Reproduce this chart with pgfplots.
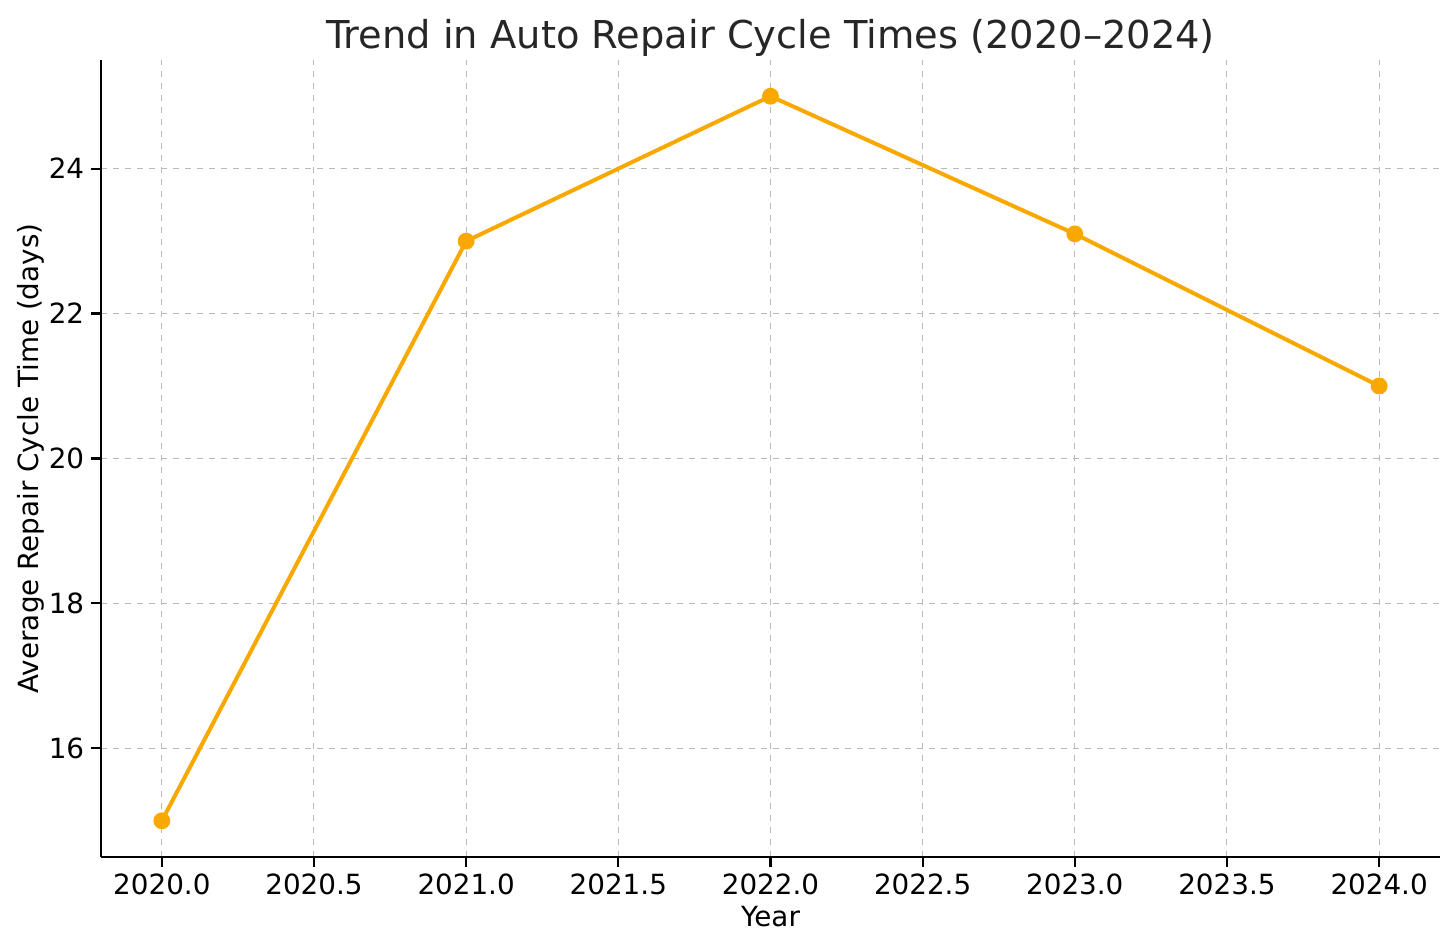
\documentclass[border=0pt]{standalone}
\usepackage{pgfplots}
\pgfplotsset{compat=1.18}
\usepackage{fontspec}
\setmainfont{DejaVu Sans}
\definecolor{lineorange}{RGB}{249,168,0}
\definecolor{txt}{RGB}{38,38,38}
\begin{document}
\begin{tikzpicture}
\path[use as bounding box] (-50.5pt,-47pt) rectangle (677.5pt,428.5pt);
\begin{axis}[
  scale only axis,
  width=669.5pt, height=398.5pt,
  xmin=2019.8, xmax=2024.2,
  ymin=14.5, ymax=25.5,
  xtick={2020,2020.5,...,2024},
  ytick={16,18,20,22,24},
  xticklabel style={/pgf/number format/.cd,fixed,fixed zerofill,precision=1,1000 sep={}},
  /pgf/number format/assume math mode=true,
  ticklabel style={font=\fontsize{13.9}{16}\selectfont, text=black},
  axis lines*=left,
  axis line style={line width=1.1pt, black, -},
  tick style={line width=1.1pt, black},
  tick align=outside,
  major tick length=4.9pt,
  grid=major,
  major grid style={dashed, line width=0.5pt, gray!55},
  xlabel={Year},
  ylabel={Average Repair Cycle Time (days)},
  label style={font=\fontsize{13.9}{16}\selectfont, text=black},
  title={Trend in Auto Repair Cycle Times (2020–2024)},
  title style={font=\fontsize{19.2}{23}\selectfont, text=txt, yshift=-8pt},
  xlabel style={yshift=1pt},
  ylabel style={yshift=-4.5pt},
  clip=false,
]
\addplot[color=lineorange, line width=2pt, mark=*, mark size=3.2pt, mark options={fill=lineorange, draw=lineorange}]
  coordinates {(2020,15) (2021,23) (2022,25) (2023,23.1) (2024,21)};
\end{axis}
\end{tikzpicture}
\end{document}
